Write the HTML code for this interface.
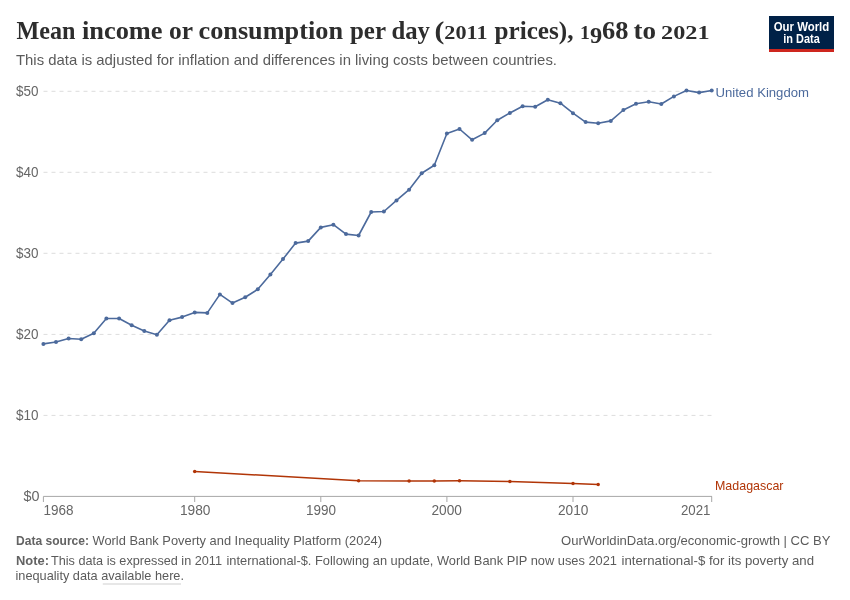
<!DOCTYPE html>
<html><head><meta charset="utf-8">
<style>
html,body{margin:0;padding:0;background:#fff;}
body{width:850px;height:600px;position:relative;overflow:hidden;font-family:"Liberation Sans",sans-serif;}
#logo{position:absolute;left:769px;top:16px;width:65px;height:36px;background:#002147;}
#logo .bar{position:absolute;left:0;bottom:0;width:100%;height:3px;background:#ce261e;}
svg{position:absolute;left:0;top:0;will-change:transform;}
</style></head><body>
<div id="logo"><div class="bar"></div></div>
<svg width="850" height="600" viewBox="0 0 850 600">
<text x="16.5" y="39.2" font-family="'Liberation Serif', serif" font-size="26" fill="#2d2d2d" text-anchor="start" font-weight="bold" textLength="59.0" lengthAdjust="spacingAndGlyphs">Mean</text><text x="82" y="39.2" font-family="'Liberation Serif', serif" font-size="26" fill="#2d2d2d" text-anchor="start" font-weight="bold" textLength="80.5" lengthAdjust="spacingAndGlyphs">income</text><text x="169.0" y="39.2" font-family="'Liberation Serif', serif" font-size="26" fill="#2d2d2d" text-anchor="start" font-weight="bold" textLength="24.0" lengthAdjust="spacingAndGlyphs">or</text><text x="198.5" y="39.2" font-family="'Liberation Serif', serif" font-size="26" fill="#2d2d2d" text-anchor="start" font-weight="bold" textLength="144.5" lengthAdjust="spacingAndGlyphs">consumption</text><text x="350.0" y="39.2" font-family="'Liberation Serif', serif" font-size="26" fill="#2d2d2d" text-anchor="start" font-weight="bold" textLength="36.0" lengthAdjust="spacingAndGlyphs">per</text><text x="391.5" y="39.2" font-family="'Liberation Serif', serif" font-size="26" fill="#2d2d2d" text-anchor="start" font-weight="bold" textLength="38.5" lengthAdjust="spacingAndGlyphs">day</text><text x="434.5" y="39.2" font-family="'Liberation Serif', serif" font-size="26" fill="#2d2d2d" text-anchor="start" font-weight="bold" textLength="53.0" lengthAdjust="spacingAndGlyphs">(<tspan font-size="19.5">2011</tspan></text><text x="494.5" y="39.2" font-family="'Liberation Serif', serif" font-size="26" fill="#2d2d2d" text-anchor="start" font-weight="bold" textLength="79.0" lengthAdjust="spacingAndGlyphs">prices),</text><text x="580.0" y="39.2" font-family="'Liberation Serif', serif" font-size="26" fill="#2d2d2d" text-anchor="start" font-weight="bold" textLength="48.5" lengthAdjust="spacingAndGlyphs"><tspan font-size="19.5">1</tspan><tspan dy="3.6" font-size="24">9</tspan><tspan dy="-3.6">68</tspan></text><text x="633.5" y="39.2" font-family="'Liberation Serif', serif" font-size="26" fill="#2d2d2d" text-anchor="start" font-weight="bold" textLength="22.5" lengthAdjust="spacingAndGlyphs">to</text><text x="661.0" y="39.2" font-family="'Liberation Serif', serif" font-size="26" fill="#2d2d2d" text-anchor="start" font-weight="bold" textLength="48.5" lengthAdjust="spacingAndGlyphs"><tspan font-size="19.5">2021</tspan></text>
<text x="16.0" y="65" font-family="'Liberation Sans', sans-serif" font-size="15" fill="#5b5b5b" text-anchor="start" font-weight="normal" textLength="541.0" lengthAdjust="spacingAndGlyphs">This data is adjusted for inflation and differences in living costs between countries.</text>
<text x="801.5" y="31" font-family="'Liberation Sans', sans-serif" font-size="12" fill="#fff" text-anchor="middle" font-weight="bold" textLength="55.5" lengthAdjust="spacingAndGlyphs">Our World</text>
<text x="801.5" y="43" font-family="'Liberation Sans', sans-serif" font-size="12" fill="#fff" text-anchor="middle" font-weight="bold" textLength="36.5" lengthAdjust="spacingAndGlyphs">in Data</text>
<g stroke="#dddddd" stroke-width="1" stroke-dasharray="4,4"><line x1="43.5" x2="712" y1="415.4" y2="415.4"/><line x1="43.5" x2="712" y1="334.4" y2="334.4"/><line x1="43.5" x2="712" y1="253.3" y2="253.3"/><line x1="43.5" x2="712" y1="172.3" y2="172.3"/><line x1="43.5" x2="712" y1="91.3" y2="91.3"/></g>
<text x="39.5" y="500.6" font-family="'Liberation Sans', sans-serif" font-size="14" fill="#666666" text-anchor="end" font-weight="normal" textLength="16.0" lengthAdjust="spacingAndGlyphs">$0</text><text x="38.5" y="419.6" font-family="'Liberation Sans', sans-serif" font-size="14" fill="#666666" text-anchor="end" font-weight="normal" textLength="22.5" lengthAdjust="spacingAndGlyphs">$10</text><text x="38.5" y="338.6" font-family="'Liberation Sans', sans-serif" font-size="14" fill="#666666" text-anchor="end" font-weight="normal" textLength="22.5" lengthAdjust="spacingAndGlyphs">$20</text><text x="38.5" y="257.5" font-family="'Liberation Sans', sans-serif" font-size="14" fill="#666666" text-anchor="end" font-weight="normal" textLength="22.5" lengthAdjust="spacingAndGlyphs">$30</text><text x="38.5" y="176.5" font-family="'Liberation Sans', sans-serif" font-size="14" fill="#666666" text-anchor="end" font-weight="normal" textLength="22.5" lengthAdjust="spacingAndGlyphs">$40</text><text x="38.5" y="95.5" font-family="'Liberation Sans', sans-serif" font-size="14" fill="#666666" text-anchor="end" font-weight="normal" textLength="22.5" lengthAdjust="spacingAndGlyphs">$50</text>
<line x1="43.4" x2="712" y1="496.4" y2="496.4" stroke="#a7a7a7" stroke-width="1"/>
<g stroke="#a7a7a7" stroke-width="1"><line x1="43.4" x2="43.4" y1="496.4" y2="502.0"/><line x1="194.7" x2="194.7" y1="496.4" y2="502.0"/><line x1="320.8" x2="320.8" y1="496.4" y2="502.0"/><line x1="446.9" x2="446.9" y1="496.4" y2="502.0"/><line x1="573.0" x2="573.0" y1="496.4" y2="502.0"/><line x1="711.7" x2="711.7" y1="496.4" y2="502.0"/></g>
<text x="43.5" y="514.8" font-family="'Liberation Sans', sans-serif" font-size="14" fill="#666666" text-anchor="start" font-weight="normal" textLength="30.0" lengthAdjust="spacingAndGlyphs">1968</text><text x="195.25" y="514.8" font-family="'Liberation Sans', sans-serif" font-size="14" fill="#666666" text-anchor="middle" font-weight="normal" textLength="30.5" lengthAdjust="spacingAndGlyphs">1980</text><text x="321.0" y="514.8" font-family="'Liberation Sans', sans-serif" font-size="14" fill="#666666" text-anchor="middle" font-weight="normal" textLength="30.0" lengthAdjust="spacingAndGlyphs">1990</text><text x="446.75" y="514.8" font-family="'Liberation Sans', sans-serif" font-size="14" fill="#666666" text-anchor="middle" font-weight="normal" textLength="30.5" lengthAdjust="spacingAndGlyphs">2000</text><text x="573.25" y="514.8" font-family="'Liberation Sans', sans-serif" font-size="14" fill="#666666" text-anchor="middle" font-weight="normal" textLength="30.5" lengthAdjust="spacingAndGlyphs">2010</text><text x="710.5" y="514.8" font-family="'Liberation Sans', sans-serif" font-size="14" fill="#666666" text-anchor="end" font-weight="normal" textLength="29.5" lengthAdjust="spacingAndGlyphs">2021</text>
<path d="M43.4,343.9 L56.0,342.0 L68.6,338.5 L81.2,339.3 L93.8,333.2 L106.4,318.5 L119.1,318.5 L131.7,325.3 L144.3,331.1 L156.9,334.8 L169.5,320.3 L182.1,317.1 L194.7,312.4 L207.3,312.9 L219.9,294.4 L232.5,303.1 L245.2,297.3 L257.8,289.3 L270.4,274.4 L283.0,259.1 L295.6,243.1 L308.2,241.1 L320.8,227.4 L333.4,224.7 L346.0,234.1 L358.6,235.5 L371.2,212.0 L383.9,211.5 L396.5,200.4 L409.1,189.7 L421.7,173.2 L434.3,165.3 L446.9,133.5 L459.5,129.0 L472.1,139.8 L484.7,133.1 L497.3,120.3 L509.9,113.0 L522.6,106.2 L535.2,106.8 L547.8,99.7 L560.4,103.2 L573.0,113.2 L585.6,122.1 L598.2,123.2 L610.8,120.9 L623.4,110.0 L636.0,103.8 L648.7,101.8 L661.3,104.0 L673.9,96.4 L686.5,90.5 L699.1,92.6 L711.7,90.5" fill="none" stroke="#4c6a9c" stroke-width="1.6" stroke-linejoin="round"/>
<g fill="#4c6a9c"><circle cx="43.4" cy="343.9" r="2"/><circle cx="56.0" cy="342.0" r="2"/><circle cx="68.6" cy="338.5" r="2"/><circle cx="81.2" cy="339.3" r="2"/><circle cx="93.8" cy="333.2" r="2"/><circle cx="106.4" cy="318.5" r="2"/><circle cx="119.1" cy="318.5" r="2"/><circle cx="131.7" cy="325.3" r="2"/><circle cx="144.3" cy="331.1" r="2"/><circle cx="156.9" cy="334.8" r="2"/><circle cx="169.5" cy="320.3" r="2"/><circle cx="182.1" cy="317.1" r="2"/><circle cx="194.7" cy="312.4" r="2"/><circle cx="207.3" cy="312.9" r="2"/><circle cx="219.9" cy="294.4" r="2"/><circle cx="232.5" cy="303.1" r="2"/><circle cx="245.2" cy="297.3" r="2"/><circle cx="257.8" cy="289.3" r="2"/><circle cx="270.4" cy="274.4" r="2"/><circle cx="283.0" cy="259.1" r="2"/><circle cx="295.6" cy="243.1" r="2"/><circle cx="308.2" cy="241.1" r="2"/><circle cx="320.8" cy="227.4" r="2"/><circle cx="333.4" cy="224.7" r="2"/><circle cx="346.0" cy="234.1" r="2"/><circle cx="358.6" cy="235.5" r="2"/><circle cx="371.2" cy="212.0" r="2"/><circle cx="383.9" cy="211.5" r="2"/><circle cx="396.5" cy="200.4" r="2"/><circle cx="409.1" cy="189.7" r="2"/><circle cx="421.7" cy="173.2" r="2"/><circle cx="434.3" cy="165.3" r="2"/><circle cx="446.9" cy="133.5" r="2"/><circle cx="459.5" cy="129.0" r="2"/><circle cx="472.1" cy="139.8" r="2"/><circle cx="484.7" cy="133.1" r="2"/><circle cx="497.3" cy="120.3" r="2"/><circle cx="509.9" cy="113.0" r="2"/><circle cx="522.6" cy="106.2" r="2"/><circle cx="535.2" cy="106.8" r="2"/><circle cx="547.8" cy="99.7" r="2"/><circle cx="560.4" cy="103.2" r="2"/><circle cx="573.0" cy="113.2" r="2"/><circle cx="585.6" cy="122.1" r="2"/><circle cx="598.2" cy="123.2" r="2"/><circle cx="610.8" cy="120.9" r="2"/><circle cx="623.4" cy="110.0" r="2"/><circle cx="636.0" cy="103.8" r="2"/><circle cx="648.7" cy="101.8" r="2"/><circle cx="661.3" cy="104.0" r="2"/><circle cx="673.9" cy="96.4" r="2"/><circle cx="686.5" cy="90.5" r="2"/><circle cx="699.1" cy="92.6" r="2"/><circle cx="711.7" cy="90.5" r="2"/></g>
<path d="M194.7,471.4 L358.6,480.7 L409.1,481.1 L434.3,481.0 L459.5,480.8 L509.9,481.5 L573.0,483.5 L598.2,484.4" fill="none" stroke="#b13507" stroke-width="1.5" stroke-linejoin="round"/>
<g fill="#b13507"><circle cx="194.7" cy="471.4" r="1.75"/><circle cx="358.6" cy="480.7" r="1.75"/><circle cx="409.1" cy="481.1" r="1.75"/><circle cx="434.3" cy="481.0" r="1.75"/><circle cx="459.5" cy="480.8" r="1.75"/><circle cx="509.9" cy="481.5" r="1.75"/><circle cx="573.0" cy="483.5" r="1.75"/><circle cx="598.2" cy="484.4" r="1.75"/></g>
<text x="715.5" y="96.6" font-family="'Liberation Sans', sans-serif" font-size="13.5" fill="#4c6a9c" text-anchor="start" font-weight="normal" textLength="93.5" lengthAdjust="spacingAndGlyphs">United Kingdom</text>
<text x="715.0" y="489.5" font-family="'Liberation Sans', sans-serif" font-size="13.5" fill="#b13507" text-anchor="start" font-weight="normal" textLength="68.5" lengthAdjust="spacingAndGlyphs">Madagascar</text>
<text x="16" y="545.2" font-family="'Liberation Sans', sans-serif" font-size="12.6" fill="#636363" text-anchor="start" font-weight="bold" textLength="73.0" lengthAdjust="spacingAndGlyphs">Data source:</text><text x="92.5" y="545.2" font-family="'Liberation Sans', sans-serif" font-size="12.6" fill="#5b5b5b" text-anchor="start" font-weight="normal" textLength="289.5" lengthAdjust="spacingAndGlyphs">World Bank Poverty and Inequality Platform (2024)</text>
<text x="830.5" y="545.2" font-family="'Liberation Sans', sans-serif" font-size="12.6" fill="#5b5b5b" text-anchor="end" font-weight="normal" textLength="269.5" lengthAdjust="spacingAndGlyphs">OurWorldinData.org/economic-growth | CC BY</text>
<text x="16.0" y="565.2" font-family="'Liberation Sans', sans-serif" font-size="12.6" fill="#636363" text-anchor="start" font-weight="bold" textLength="33.0" lengthAdjust="spacingAndGlyphs">Note:</text><text x="51" y="565.2" font-family="'Liberation Sans', sans-serif" font-size="12.6" fill="#5b5b5b" text-anchor="start" font-weight="normal" textLength="171.0" lengthAdjust="spacingAndGlyphs">This data is expressed in 2011</text><text x="226.5" y="565.2" font-family="'Liberation Sans', sans-serif" font-size="12.6" fill="#5b5b5b" text-anchor="start" font-weight="normal" textLength="390.5" lengthAdjust="spacingAndGlyphs">international-$. Following an update, World Bank PIP now uses 2021</text><text x="621.5" y="565.2" font-family="'Liberation Sans', sans-serif" font-size="12.6" fill="#5b5b5b" text-anchor="start" font-weight="normal" textLength="192.5" lengthAdjust="spacingAndGlyphs">international-$ for its poverty and</text>
<text x="15.5" y="580.2" font-family="'Liberation Sans', sans-serif" font-size="12.6" fill="#5b5b5b" text-anchor="start" font-weight="normal" textLength="168.5" lengthAdjust="spacingAndGlyphs">inequality data available here.</text>
<line x1="102.8" x2="181" y1="584" y2="584" stroke="#cfcfcf" stroke-width="1.2"/>
</svg>
</body></html>
